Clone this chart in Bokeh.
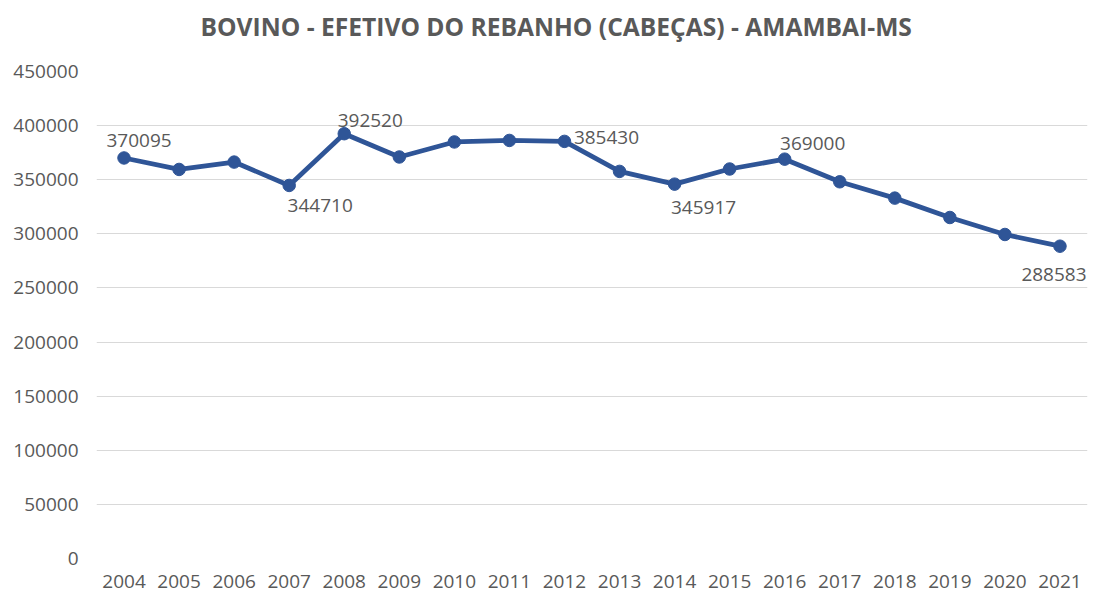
from bokeh.plotting import figure
from bokeh.models import ColumnDataSource, FactorRange, Range1d, NumeralTickFormatter, Title
from bokeh.core.properties import value
from bokeh.embed import file_html
from bokeh.resources import INLINE

years = [str(y) for y in range(2004, 2022)]
efetivo = [370095, 359500, 366300, 344710, 392520, 371000, 384900, 386300, 385430,
           357700, 345917, 359900, 369000, 348100, 333000, 315100, 299400, 288583]
labeled_years = ["2004", "2007", "2008", "2012", "2014", "2016", "2021"]
y_ticks = [0, 50000, 100000, 150000, 200000, 250000, 300000, 350000, 400000, 450000]
title_text = "BOVINO - EFETIVO DO REBANHO (CABEÇAS) - AMAMBAI-MS"

FONT = "Open Sans"
GRAY = "#595959"
BLUE = "#2F5597"

W, H = 1094, 594
BL, BR, BT, BB = 96, 7, 71, 36
YMAX = 450000
p = figure(width=W, height=H, x_range=FactorRange(*years), y_range=Range1d(0, YMAX),
           output_backend="svg", toolbar_location=None, title=None,
           min_border_left=BL, min_border_right=BR, min_border_top=BT, min_border_bottom=BB)

# spacer panel between the frame and the title, then the title itself
p.add_layout(Title(text=" ", text_font_size="1px", standoff=26), "above")
p.add_layout(Title(text=title_text, align="left", offset=104, standoff=0,
                   text_font=FONT, text_font_size="24.6px", text_font_style="bold",
                   text_color=GRAY), "above")

p.outline_line_color = None
p.background_fill_color = "white"
p.border_fill_color = "white"

p.xgrid.grid_line_color = None
p.ygrid.grid_line_color = "#D9D9D9"
p.ygrid.grid_line_width = 1
p.yaxis.ticker = y_ticks
p.yaxis.formatter = NumeralTickFormatter(format="0")

for ax in (p.xaxis[0], p.yaxis[0]):
    ax.axis_line_color = None
    ax.major_tick_line_color = None
    ax.minor_tick_line_color = None
    ax.major_tick_out = 0
    ax.major_tick_in = 0
    ax.major_label_text_font = FONT
    ax.major_label_text_font_size = "19px"
    ax.major_label_text_color = GRAY
p.yaxis.major_label_standoff = 18
p.xaxis.major_label_standoff = 16

src = ColumnDataSource(dict(x=years, y=efetivo))
p.line("x", "y", source=src, line_color=BLUE, line_width=4.8)
p.scatter("x", "y", source=src, size=12.5, fill_color=BLUE, line_color=BLUE)

offsets = {"2004": (15, -17), "2007": (31, 20), "2008": (26, -13), "2012": (42, -4),
           "2014": (29, 23), "2016": (28, -16), "2021": (-6, 28)}
lx, ly, lt, dx, dy = [], [], [], [], []
for yr, v in zip(years, efetivo):
    if yr in labeled_years:
        lx.append(yr); ly.append(v); lt.append(str(v))
        dx.append(offsets[yr][0]); dy.append(offsets[yr][1])
lsrc = ColumnDataSource(dict(x=lx, y=ly, t=lt, dx=dx, dy=dy))
p.text("x", "y", text="t", source=lsrc, x_offset="dx", y_offset="dy",
       text_align="center", text_baseline="middle", text_font=value(FONT),
       text_font_size="19px", text_color=GRAY)

open("out.html", "w").write(file_html(p, INLINE))
